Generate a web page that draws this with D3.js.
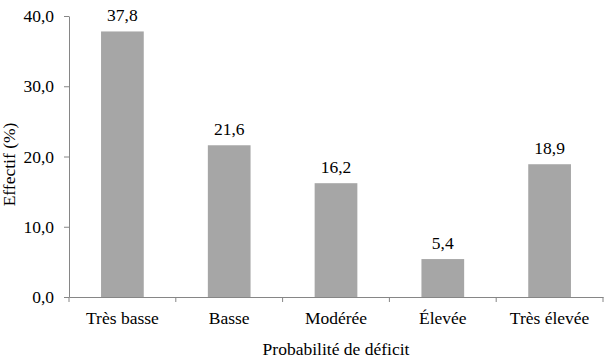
<!DOCTYPE html>
<html>
<head>
<meta charset="utf-8">
<script src="https://cdn.jsdelivr.net/npm/d3@7"></script>
<style>
  body { margin: 0; background: #fff; }
  svg text { font-family: "Liberation Serif", "Times New Roman", serif !important; font-size: 17.5px !important; }
</style>
</head>
<body>
<div id="chart-area"></div>
<script>
// Data
let categories = ["Très basse", "Basse", "Modérée", "Élevée", "Très élevée"];
let values = [37.8, 21.6, 16.2, 5.4, 18.9];
let yTicks = [0, 10, 20, 30, 40];

let margin = {top: 16, right: 6, bottom: 65, left: 69};
let width = 609 - margin.left - margin.right,
    height = 362 - margin.top - margin.bottom;

let fmt = v => d3.format(".1f")(v).replace(".", ",");

let svg = d3.select("#chart-area").append("svg")
    .attr("width", 609)
    .attr("height", 362)
  .append("g")
    .attr("transform", "translate(" + margin.left + "," + margin.top + ")");

// Scales
let x = d3.scaleBand()
    .domain(categories)
    .range([0, width])
    .paddingInner(0.6)
    .paddingOuter(0.3);

let y = d3.scaleLinear()
    .domain([0, 40])
    .range([height, 0]);

// Bars
svg.selectAll(".bar")
    .data(categories)
    .enter().append("rect")
    .attr("class", "bar")
    .attr("x", d => x(d))
    .attr("y", (d, i) => y(values[i]))
    .attr("width", x.bandwidth())
    .attr("height", (d, i) => height - y(values[i]))
    .attr("fill", "#a6a6a6");

// Value labels
svg.selectAll(".label")
    .data(categories)
    .enter().append("text")
    .attr("class", "label")
    .attr("x", d => x(d) + x.bandwidth() / 2)
    .attr("y", (d, i) => y(values[i]) - 10)
    .attr("text-anchor", "middle")
    .text((d, i) => fmt(values[i]));

// Y axis
svg.append("g")
    .attr("class", "y-axis")
    .call(d3.axisLeft(y).tickValues(yTicks).tickFormat(fmt).tickSize(5).tickSizeOuter(0).tickPadding(10));

// X axis with boundary ticks between categories
let xAxis = svg.append("g")
    .attr("class", "x-axis")
    .attr("transform", `translate(0,${height})`)
    .call(d3.axisBottom(x).tickSize(0).tickSizeOuter(0).tickPadding(15));

let step = x.step();
let x0 = x(categories[0]) - x.paddingOuter() * step;
xAxis.selectAll(".boundary")
    .data(d3.range(categories.length + 1))
    .enter().append("line")
    .attr("class", "boundary")
    .attr("x1", i => x0 + i * step)
    .attr("x2", i => x0 + i * step)
    .attr("y1", 0)
    .attr("y2", 5);

svg.selectAll(".domain, .tick line, .boundary")
    .attr("stroke", "#868686")
    .attr("stroke-width", 1);
svg.selectAll(".tick text")
    .attr("fill", "#000");

// Axis titles
svg.append("text")
    .attr("x", width / 2)
    .attr("y", height + 58)
    .attr("text-anchor", "middle")
    .text("Probabilité de déficit");

svg.append("text")
    .attr("transform", "rotate(-90)")
    .attr("x", -(height / 2) - 8)
    .attr("y", -54)
    .attr("text-anchor", "middle")
    .text("Effectif (%)");
</script>
</body>
</html>
